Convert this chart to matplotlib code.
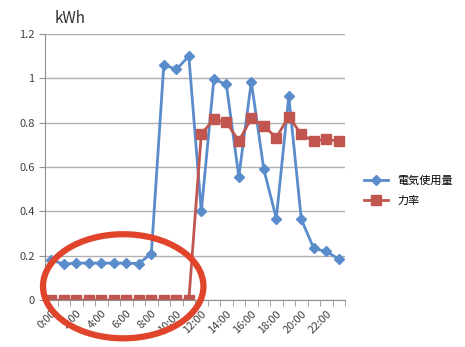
import matplotlib
matplotlib.use("Agg")
import matplotlib.pyplot as plt
import numpy as np
from matplotlib.patches import Ellipse

plt.rcParams['font.family'] = ['Noto Sans CJK JP', 'DejaVu Sans']

hours = [f"{h}:00" for h in range(24)]
usage = [0.18, 0.163, 0.167, 0.167, 0.167, 0.167, 0.167, 0.165, 0.21, 1.062, 1.04, 1.10,
         0.40, 0.995, 0.974, 0.557, 0.985, 0.59, 0.368, 0.92, 0.365, 0.233, 0.22, 0.185]
power_factor = [0, 0, 0, 0, 0, 0, 0, 0, 0, 0, 0, 0,
                0.75, 0.815, 0.803, 0.717, 0.82, 0.785, 0.733, 0.828, 0.747, 0.717, 0.725, 0.717]
yticks = [0, 0.2, 0.4, 0.6, 0.8, 1.0, 1.2]
ytick_labels = ["0", "0.2", "0.4", "0.6", "0.8", "1", "1.2"]

blue = '#5a8ccb'
red = '#c0564f'

fig = plt.figure(figsize=(4.65, 3.47), dpi=100)
ax = fig.add_axes([0.097, 0.135, 0.645, 0.767])
x = np.arange(len(hours))
ax.plot(x, usage, '-D', color=blue, lw=2, ms=5, label='電気使用量')
ax.plot(x, power_factor, '-s', color=red, lw=2, ms=6.5, label='力率')

ax.set_xlim(-0.5, len(hours) - 0.5)
ax.set_ylim(0, 1.2)
ax.set_yticks(yticks)
ax.set_yticklabels(ytick_labels)
ax.yaxis.grid(True, color='#b0b0b0', lw=1)
ax.set_axisbelow(True)
ax.set_xticks(x[::2])
ax.set_xticklabels(hours[::2], rotation=45, ha='right', rotation_mode='anchor')
ax.set_xticks(np.arange(-0.5, len(hours), 1), minor=True)
ax.tick_params(axis='x', which='major', length=0, pad=6, labelsize=8, colors='#404040')
ax.tick_params(axis='x', which='minor', length=4, color='#909090')
ax.tick_params(axis='y', length=4, color='#909090', labelsize=8, labelcolor='#404040')
for s in ['top', 'right']:
    ax.spines[s].set_visible(False)
for s in ['left', 'bottom']:
    ax.spines[s].set_color('#909090')

fig.text(0.118, 0.935, 'kWh', fontsize=11, color='#303030')

ax.legend(loc='center left', bbox_to_anchor=(1.03, 0.41), frameon=False, fontsize=8,
          handlelength=2.2, labelspacing=0.9)

# red circle annotation around the night-time values
fig.patches.append(Ellipse((0.265, 0.175), 0.345, 0.30, transform=fig.transFigure,
                           fill=False, ec='#e0452b', lw=4.5))

fig.savefig('out.png', dpi=100)
